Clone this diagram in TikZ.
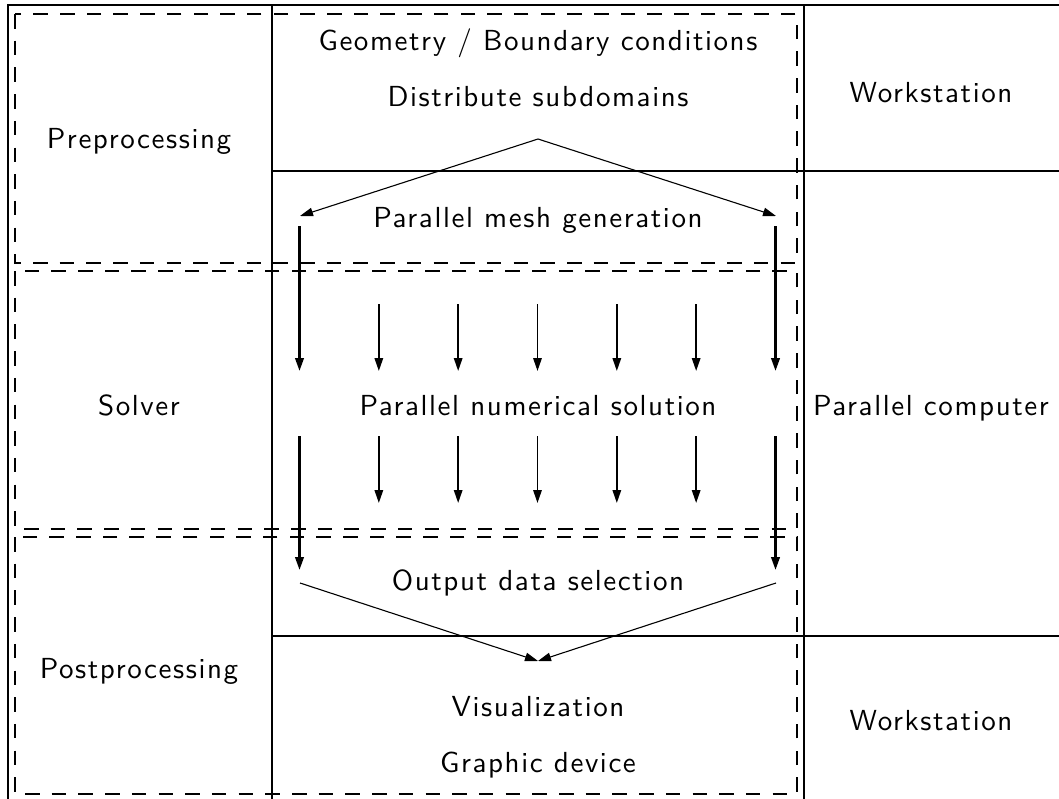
\documentclass[tikz,border=0pt]{standalone}
\usepackage{fontspec}
\newfontfamily\lsf[LetterSpace=5.5]{lmsans10-regular.otf}
\usetikzlibrary{arrows.meta}
\begin{document}
\begin{tikzpicture}[x=1pt,y=-1pt,
  frameline/.style={line width=2.8pt},
  dbox/.style={line width=2.8pt, dash pattern=on 14.5pt off 12.2pt},
  txt/.style={font=\lsf\fontsize{29pt}{34pt}\selectfont, inner sep=0pt, anchor=base},
  tip/.style={-{Triangle[length=13pt,width=8.5pt]}},
  bigarrow/.style={line width=2.4pt, tip},
  smallarrow/.style={line width=1.6pt, tip},
  diagarrow/.style={line width=1.1pt, tip}]
\useasboundingbox (0,0) rectangle (1059,798);
\fill[white] (0,0) rectangle (1059,798);

% dashed phase boxes
\draw[dbox] (15,14) rectangle (797,263);
\draw[dbox] (15,271) rectangle (797,529);
\draw[dbox] (15,537) rectangle (797,794);

% solid table grid
\draw[frameline] (8,799) -- (8,5) -- (1059,5);
\draw[frameline] (272,5) -- (272,799);
\draw[frameline] (804,5) -- (804,799);
\draw[frameline] (272,171) -- (1059,171);
\draw[frameline] (272,636) -- (1059,636);

% texts
\node[txt] (geo)  at (538,50)  {Geometry / Boundary conditions};
\node[txt] (dist) at (538,106) {Distribute subdomains};
\node[txt] (mesh) at (538,227) {Parallel mesh generation};
\node[txt] (num)  at (538,415) {Parallel numerical solution};
\node[txt] (out)  at (538,590) {Output data selection};
\node[txt] (vis)  at (538,716) {Visualization};
\node[txt] (gdev) at (538,772) {Graphic device};
\node[txt] (pre)  at (139,148) {Preprocessing};
\node[txt] (sol)  at (139,415) {Solver};
\node[txt] (post) at (139,678) {Postprocessing};
\node[txt] (ws1)  at (931,102) {Workstation};
\node[txt] (pc)   at (931,415) {Parallel computer};
\node[txt] (ws2)  at (931,730) {Workstation};

% distribution arrows
\coordinate (apex) at (538,139);
\coordinate (dl) at (300,216);
\coordinate (dr) at (776,216);
\draw[diagarrow] (apex) -- (dl);
\draw[diagarrow] (apex) -- (dr);

% outer vertical arrows
\coordinate (l1s) at (299.5,226);
\coordinate (l1e) at (299.5,371);
\coordinate (l2s) at (299.5,436);
\coordinate (l2e) at (299.5,570);
\coordinate (r1s) at (775.5,226);
\coordinate (r1e) at (775.5,371);
\coordinate (r2s) at (775.5,436);
\coordinate (r2e) at (775.5,570);
\draw[bigarrow] (l1s) -- (l1e);
\draw[bigarrow] (l2s) -- (l2e);
\draw[bigarrow] (r1s) -- (r1e);
\draw[bigarrow] (r2s) -- (r2e);

% inner vertical arrows
\foreach \i in {1,...,5} {
  \coordinate (a\i) at (299.5+79.33*\i,304);
  \coordinate (b\i) at (299.5+79.33*\i,371);
  \coordinate (c\i) at (299.5+79.33*\i,436);
  \coordinate (d\i) at (299.5+79.33*\i,503);
  \draw[smallarrow] (a\i) -- (b\i);
  \draw[smallarrow] (c\i) -- (d\i);
}

% collection arrows
\coordinate (gl) at (300,583);
\coordinate (gr) at (776,583);
\coordinate (sink) at (538,661);
\draw[diagarrow] (gl) -- (sink);
\draw[diagarrow] (gr) -- (sink);
\end{tikzpicture}
\end{document}
